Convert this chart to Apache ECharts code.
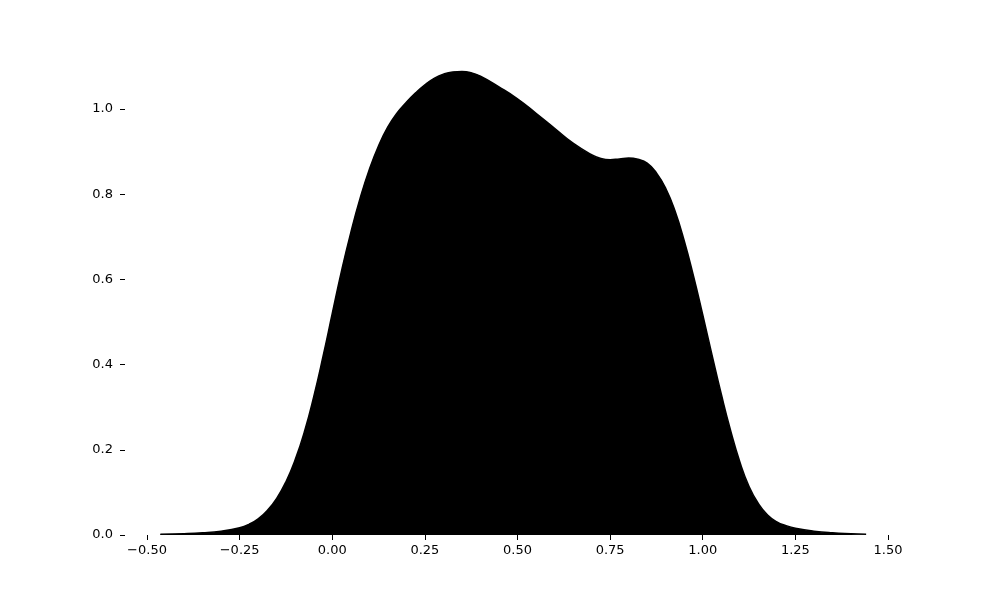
<!DOCTYPE html>
<html>
<head>
<meta charset="utf-8">
<script src="https://cdn.jsdelivr.net/npm/echarts@6/dist/echarts.min.js"></script>
<style>
  html, body { margin: 0; padding: 0; background: #fff; }
  #chart { width: 1000px; height: 600px; }
</style>
</head>
<body>
<div id="chart"></div>
<script>
// density curve
let xValues = [-0.464, -0.40, -0.35, -0.30, -0.25, -0.225, -0.20, -0.175, -0.15, -0.125,
               -0.10, -0.075, -0.05, -0.025, 0.00, 0.025, 0.05, 0.075, 0.10, 0.125,
               0.15, 0.175, 0.20, 0.225, 0.25, 0.275, 0.30, 0.325, 0.35, 0.375,
               0.40, 0.45, 0.50, 0.55, 0.60, 0.65, 0.70, 0.725, 0.75, 0.775,
               0.80, 0.825, 0.85, 0.875, 0.90, 0.925, 0.95, 0.975, 1.00, 1.025,
               1.05, 1.075, 1.10, 1.125, 1.15, 1.175, 1.20, 1.225, 1.25, 1.30,
               1.35, 1.40, 1.441];
let yValues = [0.002, 0.003, 0.005, 0.009, 0.017, 0.025, 0.038, 0.058, 0.086, 0.125,
               0.177, 0.243, 0.325, 0.419, 0.520, 0.620, 0.710, 0.790, 0.858, 0.914,
               0.958, 0.991, 1.016, 1.038, 1.057, 1.072, 1.082, 1.087, 1.088, 1.085,
               1.077, 1.052, 1.024, 0.990, 0.955, 0.920, 0.893, 0.884, 0.881, 0.883,
               0.885, 0.882, 0.873, 0.850, 0.814, 0.761, 0.691, 0.608, 0.517, 0.423,
               0.331, 0.246, 0.172, 0.114, 0.074, 0.047, 0.031, 0.022, 0.016, 0.009,
               0.005, 0.003, 0.002];
let xTicks = [-0.5, -0.25, 0, 0.25, 0.5, 0.75, 1.0, 1.25, 1.5];
let yTicks = [0, 0.2, 0.4, 0.6, 0.8, 1.0];

let fontFamily = 'DejaVu Sans';

function fmtX(v) {
    return v.toFixed(2).replace('-', '\u2212');
}

let chart = echarts.init(document.getElementById('chart'));

let points = [];
for (let i = 0; i < xValues.length; i++) {
    points.push([xValues[i], yValues[i]]);
}

let option = {
    animation: false,
    backgroundColor: '#fff',
    grid: {
        left: 125,
        right: 100,
        top: 72,
        bottom: 65
    },
    xAxis: {
        type: 'value',
        min: -0.5594,
        max: 1.5324,
        axisLine: { show: false, onZero: false },
        splitLine: { show: false },
        axisTick: {
            show: true,
            length: 5,
            customValues: xTicks,
            lineStyle: { color: '#000', width: 1 }
        },
        axisLabel: {
            color: '#000',
            fontFamily: fontFamily,
            fontSize: 13,
            margin: 9,
            customValues: xTicks,
            formatter: fmtX
        }
    },
    yAxis: {
        type: 'value',
        min: 0,
        max: 1.087,
        axisLine: { show: false, onZero: false },
        splitLine: { show: false },
        axisTick: {
            show: true,
            length: 5,
            customValues: yTicks,
            lineStyle: { color: '#000', width: 1 }
        },
        axisLabel: {
            color: '#000',
            fontFamily: fontFamily,
            fontSize: 13,
            margin: 12,
            customValues: yTicks,
            formatter: function (v) { return v.toFixed(1); }
        }
    },
    series: [{
        type: 'line',
        data: points,
        smooth: 0.5,
        symbol: 'none',
        clip: false,
        lineStyle: { color: '#000', width: 1.5 },
        areaStyle: { color: '#000', opacity: 1 }
    }]
};

chart.setOption(option);
</script>
</body>
</html>
